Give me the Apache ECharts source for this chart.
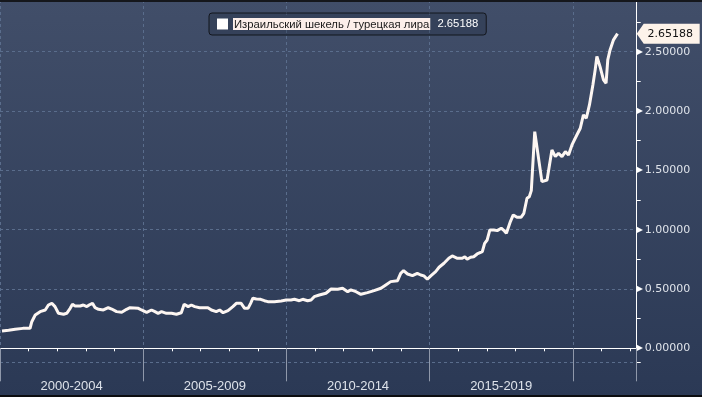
<!DOCTYPE html>
<html>
<head>
<meta charset="utf-8">
<script src="https://cdn.jsdelivr.net/npm/echarts@6/dist/echarts.min.js"></script>
<style>
html,body{margin:0;padding:0;background:#2c3a56;}
#c{width:702px;height:397px;}
</style>
</head>
<body>
<div id="c"></div>
<script>
// ---- data (decimal years, ILS/TRY) ----
const seriesName = 'Израильский шекель / турецкая лира';
const lastLabel = '2.65188';
const periodLabels = ['2000-2004', '2005-2009', '2010-2014', '2015-2019'];
const dates = [
  2000.07, 2000.30, 2000.53, 2000.80, 2001.05, 2001.11, 2001.23, 2001.40, 2001.58, 2001.69,
  2001.81, 2001.92, 2002.04, 2002.10, 2002.22, 2002.33, 2002.45, 2002.53, 2002.62, 2002.80,
  2002.91, 2003.03, 2003.11, 2003.23, 2003.32, 2003.44, 2003.61, 2003.78, 2003.90, 2004.07,
  2004.25, 2004.42, 2004.54, 2004.83, 2004.94, 2005.12, 2005.29, 2005.41, 2005.52, 2005.64,
  2005.81, 2005.99, 2006.16, 2006.33, 2006.43, 2006.57, 2006.68, 2006.80, 2006.97, 2007.26,
  2007.38, 2007.55, 2007.67, 2007.79, 2007.96, 2008.13, 2008.25, 2008.42, 2008.54, 2008.66,
  2008.75, 2008.83, 2008.95, 2009.10, 2009.23, 2009.35, 2009.58, 2009.82, 2009.99, 2010.16,
  2010.28, 2010.45, 2010.57, 2010.74, 2010.86, 2010.97, 2011.15, 2011.38, 2011.56, 2011.79,
  2011.96, 2012.14, 2012.25, 2012.43, 2012.60, 2012.83, 2013.06, 2013.30, 2013.47, 2013.64,
  2013.88, 2013.99, 2014.09, 2014.23, 2014.40, 2014.57, 2014.69, 2014.80, 2014.92, 2015.04,
  2015.21, 2015.33, 2015.50, 2015.67, 2015.79, 2015.97, 2016.14, 2016.23, 2016.31, 2016.43,
  2016.54, 2016.66, 2016.84, 2016.92, 2017.01, 2017.10, 2017.24, 2017.36, 2017.50, 2017.61,
  2017.68, 2017.82, 2017.92, 2018.05, 2018.19, 2018.29, 2018.40, 2018.48, 2018.55, 2018.60,
  2018.67, 2018.92, 2019.10, 2019.27, 2019.39, 2019.50, 2019.62, 2019.74, 2019.85, 2019.97,
  2020.14, 2020.26, 2020.37, 2020.47, 2020.58, 2020.70, 2020.78, 2020.84, 2020.95, 2021.07,
  2021.16, 2021.22, 2021.30, 2021.42, 2021.56
];
const values = [
  0.146, 0.152, 0.160, 0.168, 0.169, 0.224, 0.281, 0.309, 0.323, 0.365,
  0.379, 0.351, 0.295, 0.309, 0.287, 0.295, 0.337, 0.371, 0.357, 0.357,
  0.365, 0.351, 0.365, 0.379, 0.342, 0.329, 0.323, 0.342, 0.331, 0.309,
  0.303, 0.329, 0.342, 0.337, 0.323, 0.303, 0.323, 0.309, 0.295, 0.309,
  0.295, 0.295, 0.287, 0.300, 0.371, 0.351, 0.365, 0.351, 0.342, 0.342,
  0.323, 0.309, 0.323, 0.300, 0.317, 0.351, 0.379, 0.379, 0.337, 0.337,
  0.379, 0.422, 0.416, 0.413, 0.401, 0.393, 0.393, 0.399, 0.407, 0.407,
  0.413, 0.401, 0.413, 0.401, 0.407, 0.435, 0.449, 0.464, 0.500, 0.497,
  0.506, 0.477, 0.492, 0.477, 0.455, 0.469, 0.486, 0.506, 0.534, 0.562,
  0.570, 0.632, 0.654, 0.626, 0.612, 0.632, 0.618, 0.610, 0.582, 0.610,
  0.646, 0.683, 0.717, 0.759, 0.778, 0.759, 0.759, 0.772, 0.750, 0.767,
  0.772, 0.795, 0.815, 0.885, 0.913, 0.997, 0.997, 0.992, 1.012, 0.989,
  0.970, 1.068, 1.124, 1.104, 1.104, 1.138, 1.265, 1.278, 1.329, 1.335,
  1.826, 1.405, 1.419, 1.672, 1.616, 1.644, 1.616, 1.658, 1.630, 1.714,
  1.798, 1.855, 1.967, 1.939, 2.051, 2.220, 2.347, 2.459, 2.374, 2.262,
  2.234, 2.431, 2.515, 2.600, 2.65188
];

// ---- axis ranges ----
const xMin = 2000, xMax = 2022.23;
const yMin = -0.1214, yMax = 2.9358;

const points = dates.map((d, i) => [d, values[i]]);
const lastValue = values[values.length - 1];

const gridLine = { type: [3, 3], color: '#5a6d8c', width: 1 };
const chart = echarts.init(document.getElementById('c'), null, { renderer: 'canvas' });

chart.setOption({
  animation: false,
  backgroundColor: {
    type: 'linear', x: 0, y: 0, x2: 0, y2: 1,
    colorStops: [{ offset: 0, color: '#414e69' }, { offset: 1, color: '#2b3955' }]
  },
  grid: [
    { left: -2, right: 65.3, top: 0, bottom: 34.3 }
  ],
  legend: {
    left: 209, top: 13,
    padding: [5, 8],
    borderColor: '#13161d', borderWidth: 1, borderRadius: 3,
    backgroundColor: 'rgba(35,45,66,0.35)',
    icon: 'rect', itemWidth: 11, itemHeight: 11,
    itemStyle: { color: '#ffffff' },
    data: [seriesName],
    formatter: name => '{a|' + name + '}{b| ' + lastLabel + '}',
    textStyle: {
      fontFamily: 'Liberation Sans', fontSize: 11.3,
      rich: {
        a: { backgroundColor: '#fcefea', color: '#1a1a1a', fontFamily: 'Liberation Sans', fontSize: 11.3, padding: [1, 1, 0, 1] },
        b: { color: '#ffffff', fontFamily: 'Liberation Sans', fontSize: 11.3, padding: [0, 0, 0, 4] }
      }
    }
  },
  xAxis: [
    {
      type: 'value', gridIndex: 0, min: xMin, max: xMax, interval: 1,
      axisLine: { show: true, lineStyle: { color: '#ffffff', width: 1 } },
      axisTick: { show: true, length: 3, lineStyle: { color: '#ffffff' } },
      axisLabel: { show: false }, splitLine: { show: false }
    },
    {
      type: 'value', gridIndex: 0, min: xMin, max: xMax, interval: 5, position: 'bottom',
      axisLine: { show: false },
      axisTick: { show: true, length: 33, lineStyle: { color: '#8f98aa' } },
      axisLabel: { show: false },
      splitLine: { show: true, lineStyle: gridLine }
    },
    {
      type: 'value', gridIndex: 0, min: xMin, max: xMax, interval: 2.5, position: 'bottom',
      axisLine: { show: false }, axisTick: { show: false }, splitLine: { show: false },
      axisLabel: {
        margin: 17, color: '#dde2ea', fontSize: 13, fontFamily: 'Liberation Sans',
        showMinLabel: false, showMaxLabel: false,
        formatter: v => {
          const k = (v - 2002.5) / 5;
          if (Math.abs(k - Math.round(k)) > 1e-6) return '';
          return periodLabels[Math.round(k)] || '';
        }
      }
    }
  ],
  yAxis: [
    {
      type: 'value', gridIndex: 0, position: 'right', min: yMin, max: yMax,
      splitNumber: 6, minInterval: 0.5, maxInterval: 0.5,
      axisLine: { show: true, lineStyle: { color: '#ffffff', width: 1 } },
      axisTick: { show: false },
      splitLine: { show: true, lineStyle: gridLine },
      axisLabel: {
        margin: 0, showMinLabel: false, showMaxLabel: false,
        formatter: v => {
          const r = Math.round(v * 2) / 2;
          if (Math.abs(v - r) > 1e-6) return '';
          return '{t|▶}{v|' + Math.abs(r).toFixed(5) + '}';
        },
        rich: {
          t: { fontSize: 8, color: '#ffffff', fontFamily: 'DejaVu Sans', padding: [0, 2, 0, 0] },
          v: { fontSize: 11, color: '#dfe3ea', fontFamily: 'DejaVu Sans' }
        }
      }
    },
    {
      type: 'value', gridIndex: 0, position: 'right', min: yMin, max: yMax,
      splitNumber: 12, minInterval: 0.25, maxInterval: 0.25,
      axisLine: { show: false },
      axisTick: { show: true, length: 4, lineStyle: { color: '#ffffff' } },
      axisLabel: { show: false }, splitLine: { show: false }
    }
  ],
  series: [{
    name: seriesName,
    type: 'line',
    xAxisIndex: 0, yAxisIndex: 0,
    data: points,
    showSymbol: false,
    symbol: 'none',
    lineStyle: { color: '#fdf6f2', width: 3 },
    itemStyle: { color: '#ffffff' },
    markPoint: {
      symbol: 'path://M0,10L7,0L63,0L63,20L7,20Z',
      symbolSize: [63, 20],
      symbolKeepAspect: false,
      symbolOffset: ['50%', 0],
      itemStyle: { color: '#fdf3ea' },
      label: {
        show: true, position: 'inside', color: '#111111',
        fontSize: 11, fontFamily: 'DejaVu Sans', offset: [2, 0],
        formatter: () => lastLabel
      },
      data: [{ coord: [xMax, lastValue], value: lastValue }]
    }
  }],
  graphic: [
    { type: 'rect', left: 0, top: 0, shape: { width: 702, height: 2 }, style: { fill: '#15171c' }, z: 100 },
    { type: 'rect', left: 0, bottom: 0, shape: { width: 702, height: 2 }, style: { fill: '#0c0d10' }, z: 100 }
  ]
});
</script>
</body>
</html>
